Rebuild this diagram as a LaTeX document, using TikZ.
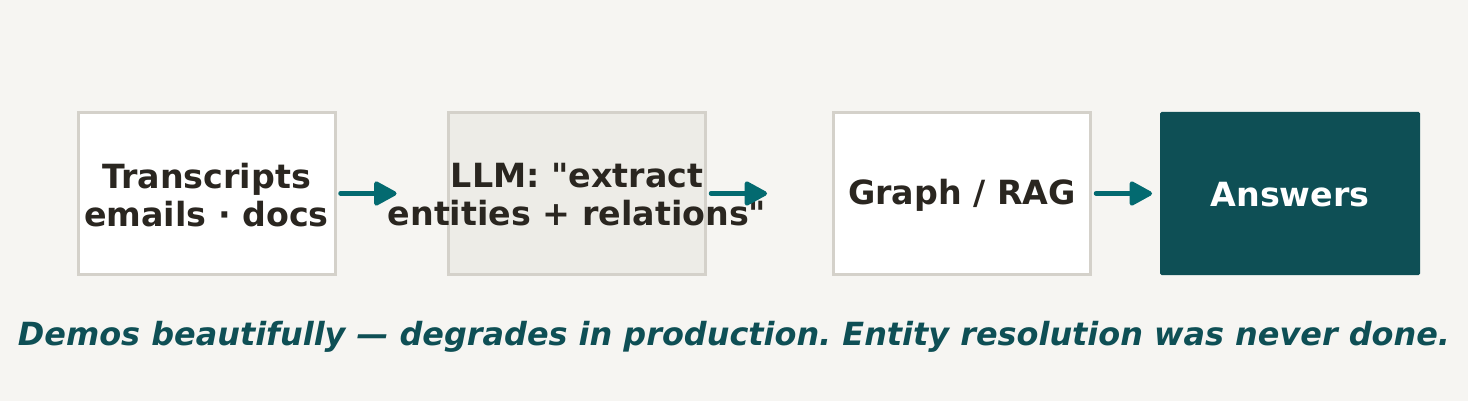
\documentclass[tikz,border=0pt]{standalone}
\usepackage{fontspec}
\setmainfont{DejaVu Sans}[Ligatures=TeXOff]
\usetikzlibrary{arrows.meta}
\frenchspacing
\definecolor{bg}{HTML}{F6F5F2}
\definecolor{edge}{HTML}{D4D1CA}
\definecolor{graybox}{HTML}{EDECE7}
\definecolor{ink}{HTML}{2A2620}
\definecolor{teal}{HTML}{0E4F55}
\definecolor{arrowc}{HTML}{036A70}
\tikzset{
  stage/.style={draw=edge, line width=3pt, fill=white, minimum width=257pt, minimum height=161pt,
    inner sep=0pt},
  final/.style={fill=teal, rounded corners=1.5pt, minimum width=260pt, minimum height=163pt,
    inner sep=0pt},
  lbl/.style={align=center, text=ink, inner sep=0pt, font=\fontsize{33.3}{38}\selectfont\bfseries},
  flow/.style={draw=arrowc, line width=4.5pt, line cap=round,
    -{Triangle[length=25pt,width=26pt,round]}},
  caption/.style={text=teal, font=\fontsize{31.9}{36}\selectfont\bfseries\itshape, inner sep=0pt}
}
\begin{document}
\begin{tikzpicture}[x=1pt,y=-1pt]
\fill[bg] (0,0) rectangle (1468,401);
\useasboundingbox (0,0) rectangle (1468,401);
\node[stage] (src) at (206.5,193.5) {};
\node[stage, fill=graybox] (llm) at (577,193.5) {};
\node[stage] (graph) at (962,193.5) {};
\node[final] (ans) at (1290,193.5) {};
\node[lbl] (srct) at ([yshift=-1.5pt]src.center) {Transcripts\\emails · docs};
\node[lbl] (llmt) at ([yshift=-1.5pt]llm.center) {LLM: "extract\\entities + relations"};
\node[lbl] (grapht) at ([yshift=-2pt]graph.center) {Graph / RAG};
\node[lbl, text=white] (anst) at ([yshift=-1pt]ans.center) {Answers};
\draw[flow] (src.east) ++(4pt,0) coordinate (a1) -- ++(56pt,0) coordinate (a1e);
\draw[flow] (llm.east) ++(4pt,0) coordinate (a2) -- ++(56pt,0) coordinate (a2e);
\draw[flow] (graph.east) ++(4pt,0) coordinate (a3) -- ++(56pt,0) coordinate (a3e);
\node[caption] (cap) at (734,336.5) {Demos beautifully — degrades in production. Entity resolution was never done.};
\end{tikzpicture}
\end{document}
